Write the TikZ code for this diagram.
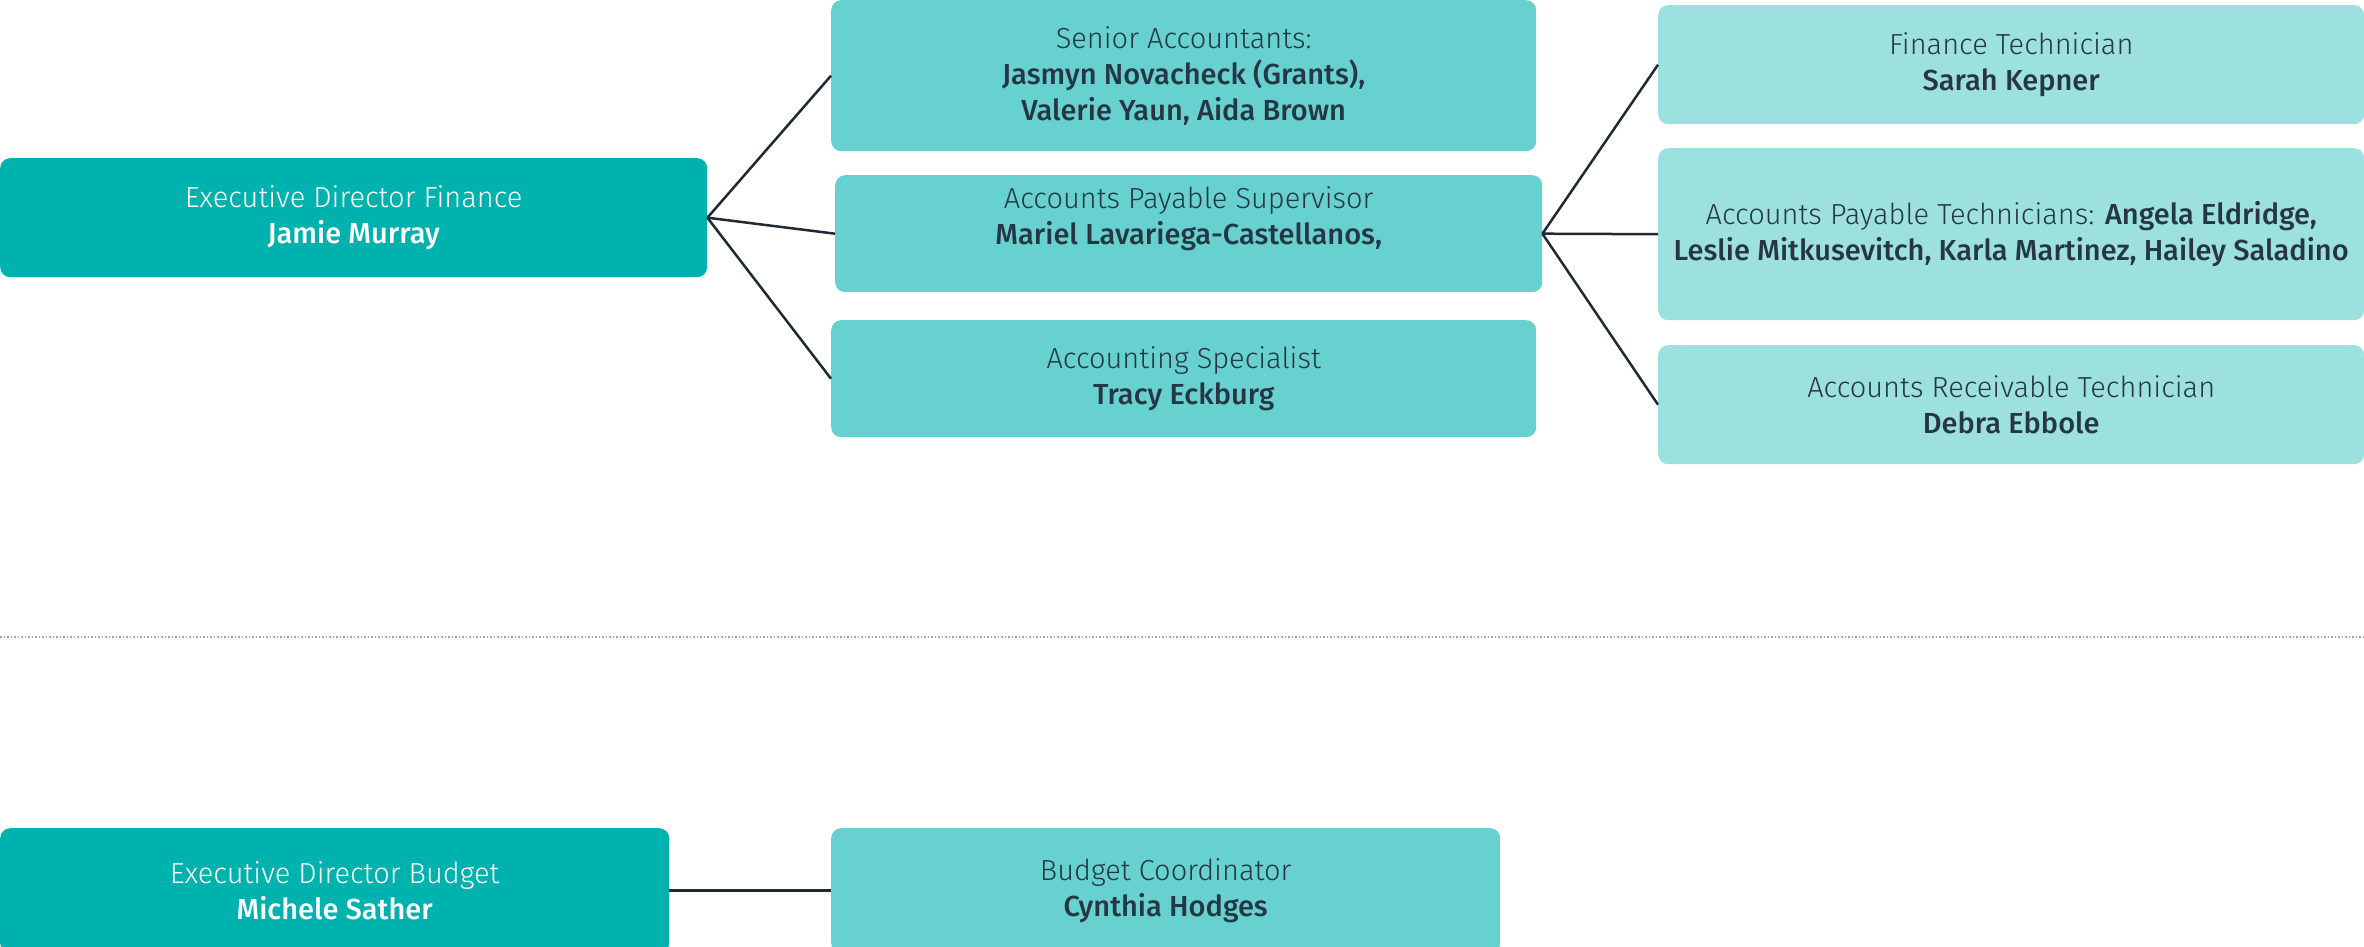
\documentclass[tikz,border=0pt]{standalone}
\usepackage{fontspec}
\setmainfont{Fira Sans Light}[BoldFont={Fira Sans Medium}]
\definecolor{darkteal}{HTML}{00B2AE}
\definecolor{midteal}{HTML}{66D1CF}
\definecolor{lightteal}{HTML}{9CE1DF}
\definecolor{ink}{HTML}{263645}
\definecolor{connector}{HTML}{1E2A36}
\tikzset{
  box/.style={rectangle, rounded corners=10pt, inner sep=0pt, anchor=north west, align=center,
    font=\fontsize{29}{36}\selectfont},
  exec/.style={box, fill=darkteal, text=white},
  mid/.style={box, fill=midteal, text=ink},
  light/.style={box, fill=lightteal, text=ink},
  link/.style={draw=connector, line width=2.5pt},
}
\begin{document}
\begin{tikzpicture}[x=1pt,y=-1pt]
\useasboundingbox (0,0) rectangle (2364,947);
\node[exec, minimum width=707pt, minimum height=119pt] (edf) at (0,158) {Executive Director Finance\\\textbf{Jamie Murray}};
\node[mid, minimum width=705pt, minimum height=151pt] (sa) at (831,0) {Senior Accountants:\\\textbf{Jasmyn Novacheck (Grants),}\\\textbf{Valerie Yaun, Aida Brown}};
\node[mid, minimum width=707pt, minimum height=117pt] (aps) at (835,175) {Accounts Payable Supervisor\\\textbf{Mariel Lavariega-Castellanos,}\\\mbox{}};
\node[mid, minimum width=705pt, minimum height=117pt] (asp) at (831,320) {Accounting Specialist\\\textbf{Tracy Eckburg}};
\node[light, minimum width=706pt, minimum height=119pt] (ft) at (1658,5) {Finance Technician\\\textbf{Sarah Kepner}};
\node[light, minimum width=706pt, minimum height=172pt] (apt) at (1658,148) {Accounts Payable Technicians: \textbf{Angela Eldridge,}\\\textbf{Leslie Mitkusevitch, Karla Martinez, Hailey Saladino}};
\node[light, minimum width=706pt, minimum height=119pt] (art) at (1658,345) {Accounts Receivable Technician\\\textbf{Debra Ebbole}};
\node[exec, minimum width=669pt, minimum height=125pt] (edb) at (0,828) {Executive Director Budget\\\textbf{Michele Sather}};
\node[mid, minimum width=669pt, minimum height=125pt] (bc) at (831,828) {Budget Coordinator\\\textbf{Cynthia Hodges}};
\coordinate (dl) at (0,637);
\coordinate (dr) at (2364,637);
\draw[draw=gray!70, line width=1.5pt, dotted] (dl) -- (dr);
\draw[link] (edf.east) -- (sa.west);
\draw[link] (edf.east) -- (aps.west);
\draw[link] (edf.east) -- (asp.west);
\draw[link] (aps.east) -- (ft.west);
\draw[link] (aps.east) -- (apt.west);
\draw[link] (aps.east) -- (art.west);
\draw[link] (edb.east) -- (bc.west);
\end{tikzpicture}
\end{document}
